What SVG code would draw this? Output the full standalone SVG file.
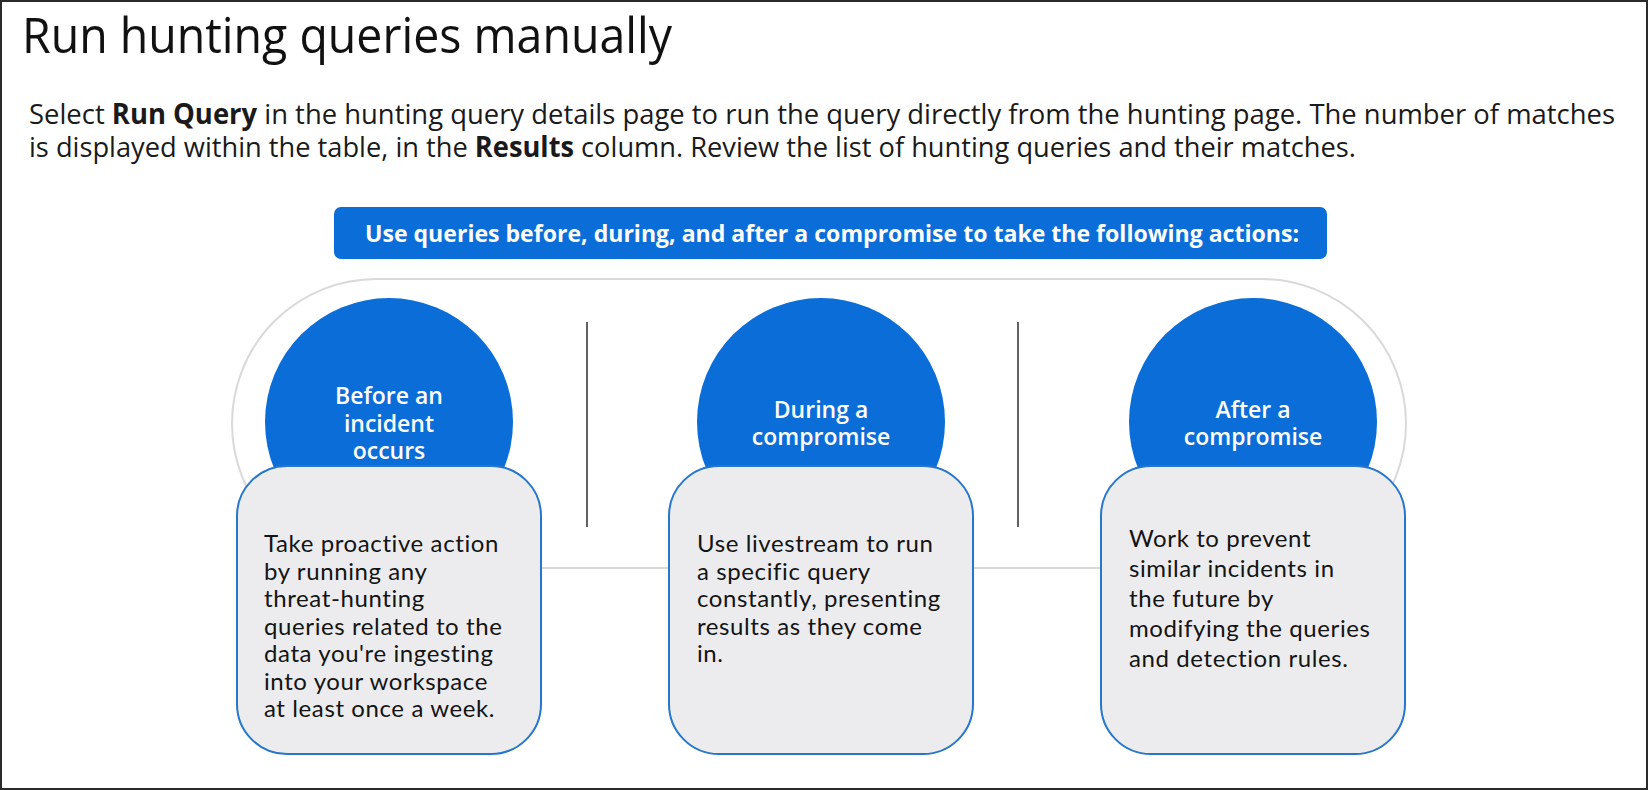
<svg xmlns="http://www.w3.org/2000/svg" width="1648" height="790" viewBox="0 0 1648 790">
<style>
.title{font-family:"Open Sans","Liberation Sans",sans-serif;font-size:50px;font-weight:500;fill:#111}
.para{font-family:"Open Sans","Liberation Sans",sans-serif;font-size:28px;fill:#1a1a1a}
.b{font-weight:bold}
.banner-text{font-family:"Open Sans","Liberation Sans",sans-serif;font-size:23px;font-weight:bold;fill:#fff}
.circ{fill:#0B6ED8}
.circ-text{font-family:"Open Sans","Liberation Sans",sans-serif;font-size:23px;font-weight:600;fill:#fff;text-anchor:middle}
.box{fill:#ECECEE;stroke:#2677CC;stroke-width:2}
.box-text{font-family:"Lato","Open Sans",sans-serif;font-size:24px;letter-spacing:0.6px;fill:#141414}
.track{fill:none;stroke:#D9D9D9;stroke-width:2}
.sep{stroke:#3A3A3A;stroke-width:1.6}
</style>
<rect x="0" y="0" width="1648" height="790" fill="#fff"/>
<rect x="1" y="1" width="1646" height="788" fill="none" stroke="#2b2b2b" stroke-width="2"/>
<g id="title">
<text class="title" x="22" y="53" textLength="650" lengthAdjust="spacingAndGlyphs">Run hunting queries manually</text>
</g>
<g id="intro">
<text class="para" x="29" y="124" textLength="1586" lengthAdjust="spacingAndGlyphs">Select <tspan class="b">Run Query</tspan> in the hunting query details page to run the query directly from the hunting page. The number of matches</text>
<text class="para" x="29" y="157" textLength="1327" lengthAdjust="spacingAndGlyphs">is displayed within the table, in the <tspan class="b">Results</tspan> column. Review the list of hunting queries and their matches.</text>
</g>
<g id="banner">
<rect x="334" y="207" width="993" height="52" rx="7" fill="#0B6ED8"/>
<text class="banner-text" x="365" y="242" textLength="934" lengthAdjust="spacingAndGlyphs">Use queries before, during, and after a compromise to take the following actions:</text>
</g>
<g id="connectors">
<rect class="track" x="232" y="279" width="1174" height="289" rx="144.5" ry="144.5"/>
<line class="sep" x1="587" y1="322" x2="587" y2="527"/>
<line class="sep" x1="1018" y1="322" x2="1018" y2="527"/>
</g>
<g id="node-before">
<circle class="circ" cx="389" cy="422" r="124"/>
<text class="circ-text" x="389" y="404">Before an</text>
<text class="circ-text" x="389" y="432">incident</text>
<text class="circ-text" x="389" y="459">occurs</text>
<rect class="box" x="237" y="466" width="304" height="288" rx="50"/>
<text class="box-text" x="264" y="552">Take proactive action</text>
<text class="box-text" x="264" y="579.5">by running any</text>
<text class="box-text" x="264" y="607">threat-hunting</text>
<text class="box-text" x="264" y="634.5">queries related to the</text>
<text class="box-text" x="264" y="662">data you're ingesting</text>
<text class="box-text" x="264" y="689.5">into your workspace</text>
<text class="box-text" x="264" y="717">at least once a week.</text>
</g>
<g id="node-during">
<circle class="circ" cx="821" cy="422" r="124"/>
<text class="circ-text" x="821" y="418">During a</text>
<text class="circ-text" x="821" y="445">compromise</text>
<rect class="box" x="669" y="466" width="304" height="288" rx="50"/>
<text class="box-text" x="697" y="552">Use livestream to run</text>
<text class="box-text" x="697" y="580">a specific query</text>
<text class="box-text" x="697" y="607">constantly, presenting</text>
<text class="box-text" x="697" y="635">results as they come</text>
<text class="box-text" x="697" y="662">in.</text>
</g>
<g id="node-after">
<circle class="circ" cx="1253" cy="422" r="124"/>
<text class="circ-text" x="1253" y="418">After a</text>
<text class="circ-text" x="1253" y="445">compromise</text>
<rect class="box" x="1101" y="466" width="304" height="288" rx="50"/>
<text class="box-text" x="1129" y="547">Work to prevent</text>
<text class="box-text" x="1129" y="577">similar incidents in</text>
<text class="box-text" x="1129" y="607">the future by</text>
<text class="box-text" x="1129" y="637">modifying the queries</text>
<text class="box-text" x="1129" y="667">and detection rules.</text>
</g>
</svg>
